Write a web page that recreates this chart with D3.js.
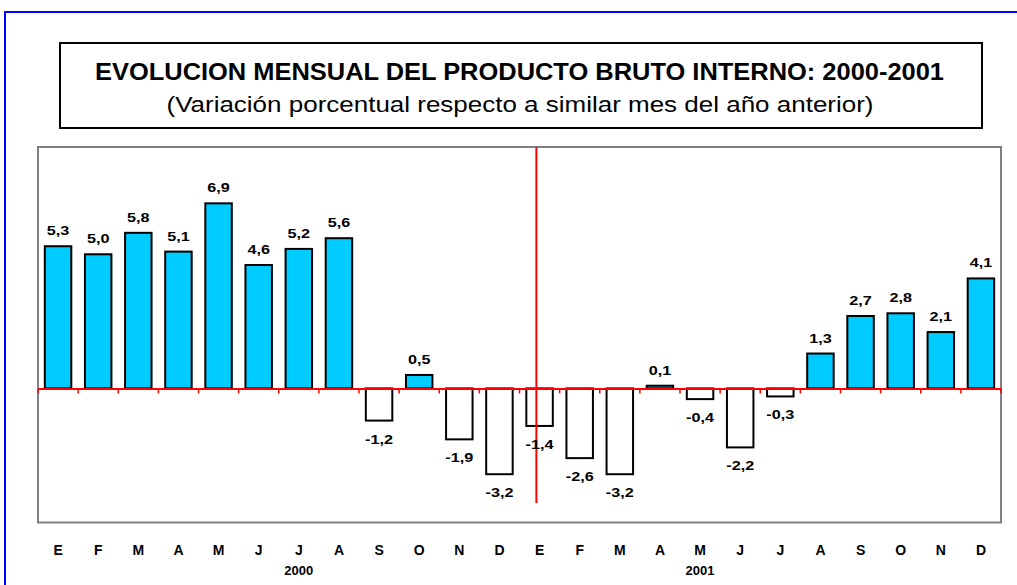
<!DOCTYPE html>
<html>
<head>
<meta charset="utf-8">
<script src="https://cdn.jsdelivr.net/npm/d3@7"></script>
<style>
  body { margin: 0; background: #fff; }
  text { font-family: "Liberation Sans", Arial, sans-serif; fill: #000; }
</style>
</head>
<body>
<div id="chart"></div>
<script>
////////// Data ///////////
var months = ["E", "F", "M", "A", "M", "J", "J", "A", "S", "O", "N", "D",
              "E", "F", "M", "A", "M", "J", "J", "A", "S", "O", "N", "D"];
var years = ["2000", "2001"];
var values = [5.3, 5.0, 5.8, 5.1, 6.9, 4.6, 5.2, 5.6, -1.2, 0.5, -1.9, -3.2,
              -1.4, -2.6, -3.2, 0.1, -0.4, -2.2, -0.3, 1.3, 2.7, 2.8, 2.1, 4.1];
var yearLabelIndex = [6, 16];   // month under which each year is written
var title = "EVOLUCION MENSUAL DEL PRODUCTO BRUTO INTERNO: 2000-2001";
var subtitle = "(Variación porcentual respecto a similar mes del año anterior)";

function fmt(v) { return v.toFixed(1).replace(".", ","); }

var width = 1017, height = 585;
var plot = { left: 38, right: 1001, top: 147, bottom: 522.5 };

var svg = d3.select("#chart").append("svg")
  .attr("width", width)
  .attr("height", height);

// blue frame
svg.append("path")
  .attr("d", "M5," + height + "V12H" + width)
  .attr("fill", "none")
  .attr("stroke", "#0000ff")
  .attr("stroke-width", 2);

// Title box
svg.append("rect")
  .attr("x", 60).attr("y", 43)
  .attr("width", 922).attr("height", 85)
  .attr("fill", "#fff")
  .attr("stroke", "#000")
  .attr("stroke-width", 2);

svg.append("text")
  .attr("x", 519.5).attr("y", 79.5)
  .attr("text-anchor", "middle")
  .attr("textLength", 849)
  .attr("lengthAdjust", "spacingAndGlyphs")
  .style("font-size", "24.5px")
  .style("font-weight", "bold")
  .text(title);

svg.append("text")
  .attr("x", 520).attr("y", 112)
  .attr("text-anchor", "middle")
  .attr("textLength", 707)
  .attr("lengthAdjust", "spacingAndGlyphs")
  .style("font-size", "21.5px")
  .text(subtitle);

// scales
var idx = d3.range(values.length);
var x = d3.scaleBand()
  .domain(idx)
  .range([plot.left, plot.right])
  .paddingInner(0.34)
  .paddingOuter(0.17);

var y = d3.scaleLinear()
  .domain([-5, 9])
  .range([plot.bottom, plot.top]);

// plot border
svg.append("rect")
  .attr("x", plot.left).attr("y", plot.top)
  .attr("width", plot.right - plot.left)
  .attr("height", plot.bottom - plot.top)
  .attr("fill", "#fff")
  .attr("stroke", "#808080")
  .attr("stroke-width", 2);

// bars
svg.selectAll(".bar")
  .data(values)
  .enter().append("rect")
  .attr("class", "bar")
  .attr("x", function(d, i) { return x(i); })
  .attr("y", function(d) { return y(Math.max(0, d)); })
  .attr("width", x.bandwidth())
  .attr("height", function(d) { return Math.abs(y(d) - y(0)); })
  .attr("fill", function(d) { return d > 0 ? "#00ccff" : "#fff"; })
  .attr("stroke", "#000")
  .attr("stroke-width", 2);

// zero axis (red) with ticks at category boundaries
var axis = d3.axisBottom(x)
  .tickSize(0)
  .tickFormat("");
var axisG = svg.append("g")
  .attr("transform", "translate(0," + y(0) + ")")
  .call(axis);
axisG.select(".domain")
  .attr("stroke", "#ff0000")
  .attr("stroke-width", 2);
axisG.selectAll(".sep")
  .data(d3.range(values.length + 1))
  .enter().append("line")
  .attr("class", "sep")
  .attr("x1", function(k) { return plot.left + k * x.step(); })
  .attr("x2", function(k) { return plot.left + k * x.step(); })
  .attr("y1", 0).attr("y2", 5)
  .attr("stroke", "#ff0000")
  .attr("stroke-width", 1.5);

// vertical red divider
var divX = x(12) + x.bandwidth() * 0.38;
svg.append("line")
  .attr("x1", divX).attr("x2", divX)
  .attr("y1", plot.top).attr("y2", 503)
  .attr("stroke", "#ff0000")
  .attr("stroke-width", 2);

// value labels
svg.selectAll(".val")
  .data(values)
  .enter().append("text")
  .attr("class", "val")
  .attr("text-anchor", "middle")
  .attr("transform", function(d, i) {
    var cx = x(i) + x.bandwidth() / 2;
    var ty = d > 0 ? y(d) - 11 : y(d) + 23;
    return "translate(" + cx + "," + ty + ") scale(1.2,1)";
  })
  .style("font-size", "13.5px")
  .style("font-weight", "bold")
  .text(fmt);

// month labels
svg.selectAll(".month")
  .data(months)
  .enter().append("text")
  .attr("class", "month")
  .attr("x", function(d, i) { return x(i) + x.bandwidth() / 2; })
  .attr("y", 555)
  .attr("text-anchor", "middle")
  .style("font-size", "14px")
  .style("font-weight", "bold")
  .text(function(d) { return d; });

// year labels
svg.selectAll(".year")
  .data(years)
  .enter().append("text")
  .attr("class", "year")
  .attr("x", function(d, i) { return x(yearLabelIndex[i]) + x.bandwidth() / 2; })
  .attr("y", 575)
  .attr("text-anchor", "middle")
  .style("font-size", "13px")
  .style("font-weight", "bold")
  .text(function(d) { return d; });
</script>
</body>
</html>
